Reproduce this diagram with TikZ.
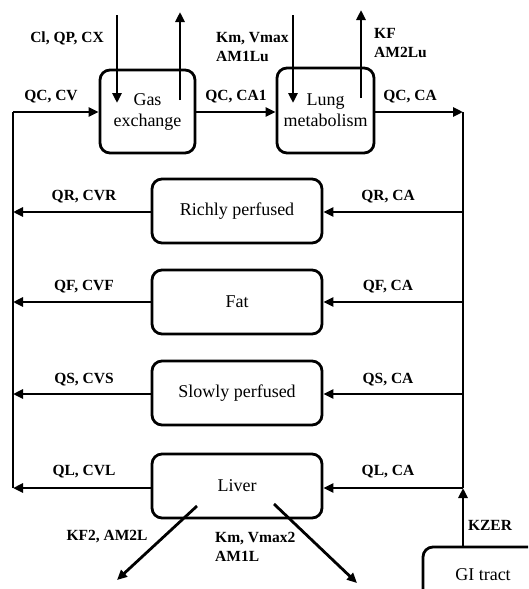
\documentclass[tikz,border=0pt]{standalone}
\usepackage{fontspec}
\setmainfont{Liberation Serif}
\usetikzlibrary{arrows.meta}
\begin{document}
\begin{tikzpicture}[x=1pt,y=-1pt,
  box/.style={draw,line width=2.8pt,rounded corners=10pt,align=center,inner sep=0pt,
    font=\fontsize{18}{21}\selectfont},
  sidebox/.style={box,minimum width=170pt,minimum height=64pt},
  lbl/.style={font=\fontsize{15.5}{19.5}\selectfont\bfseries,inner sep=0pt,align=left},
  flow/.style={line width=2.8pt,-{Triangle[length=10pt,width=9pt]}},
  wire/.style={line width=2.8pt}]
\useasboundingbox (0,0) rectangle (528,589);
\clip (0,0) rectangle (528,589);
% top boxes
\node[box,minimum width=95pt,minimum height=83pt] (gas) at (147.5,111.5) {Gas\\exchange};
\node[box,minimum width=97pt,minimum height=85pt] (lung) at (325.5,110.5) {Lung\\metabolism};
% side boxes
\node[sidebox] (rich) at (237,211) {Richly perfused};
\node[sidebox] (fat) at (237,302) {Fat};
\node[sidebox] (slow) at (237,393) {Slowly perfused};
\node[sidebox] (liver) at (237,486) {Liver};
\node[box,minimum width=120pt,minimum height=56pt] (gi) at (483,575) {GI tract};
% coordinates
\coordinate (Ltop) at (13,112);
\coordinate (Rtop) at (463,112);
\coordinate (Lbot) at (13,488);
\coordinate (Rbot) at (463,488);
\coordinate (gasIn0) at (117,15); \coordinate (gasIn1) at (117,103);
\coordinate (gasOut0) at (180,100); \coordinate (gasOut1) at (180,12);
\coordinate (lungIn0) at (293,15); \coordinate (lungIn1) at (293,103);
\coordinate (lungOut0) at (361,98); \coordinate (lungOut1) at (361,10);
\coordinate (livA0) at (197,506); \coordinate (livA1) at (117,580);
\coordinate (livB0) at (274,504); \coordinate (livB1) at (357,583);
% main loop
\draw[wire] (Lbot) -- (Ltop);
\draw[flow] (Ltop) -- (gas.west |- Ltop);
\draw[flow] (gas.east |- Ltop) -- (lung.west |- Ltop);
\draw[flow] (lung.east |- Rtop) -- (Rtop);
\draw[wire] (Rtop) -- (Rbot);
% top in/out arrows
\draw[flow] (gasIn0) -- (gasIn1);
\draw[flow] (gasOut0) -- (gasOut1);
\draw[flow] (lungIn0) -- (lungIn1);
\draw[flow] (lungOut0) -- (lungOut1);
% side compartments
\foreach \n/\y in {rich/212,fat/302,slow/394,liver/488}{
  \draw[flow] (Rtop |- 0,\y) -- (\n.east |- 0,\y);
  \draw[flow] (\n.west |- 0,\y) -- (Ltop |- 0,\y);
}
% liver outputs
\draw[flow] (livA0) -- (livA1);
\draw[flow] (livB0) -- (livB1);
% GI tract
\draw[flow] (gi.north -| Rbot) -- (Rbot);
% labels
\node[lbl] (l1) at (67,38) {Cl, QP, CX};
\node[lbl] (l2) at (51,97) {QC, CV};
\node[lbl] (l3) at (236,97) {QC, CA1};
\node[lbl,anchor=west] (l4) at (216,47) {Km, Vmax\\AM1Lu};
\node[lbl,anchor=west] (l5) at (374,43) {KF\\AM2Lu};
\node[lbl] (l6) at (410,97) {QC, CA};
\node[lbl] (r1) at (84,197) {QR, CVR};
\node[lbl] (r2) at (84,287) {QF, CVF};
\node[lbl] (r3) at (84,380) {QS, CVS};
\node[lbl] (r4) at (84,472) {QL, CVL};
\node[lbl] (a1) at (388,197) {QR, CA};
\node[lbl] (a2) at (388,287) {QF, CA};
\node[lbl] (a3) at (388,380) {QS, CA};
\node[lbl] (a4) at (388,472) {QL, CA};
\node[lbl] (k1) at (107,537) {KF2, AM2L};
\node[lbl,anchor=west] (k2) at (215,547) {Km, Vmax2\\AM1L};
\node[lbl] (k3) at (490,525) {KZER};
\end{tikzpicture}
\end{document}
